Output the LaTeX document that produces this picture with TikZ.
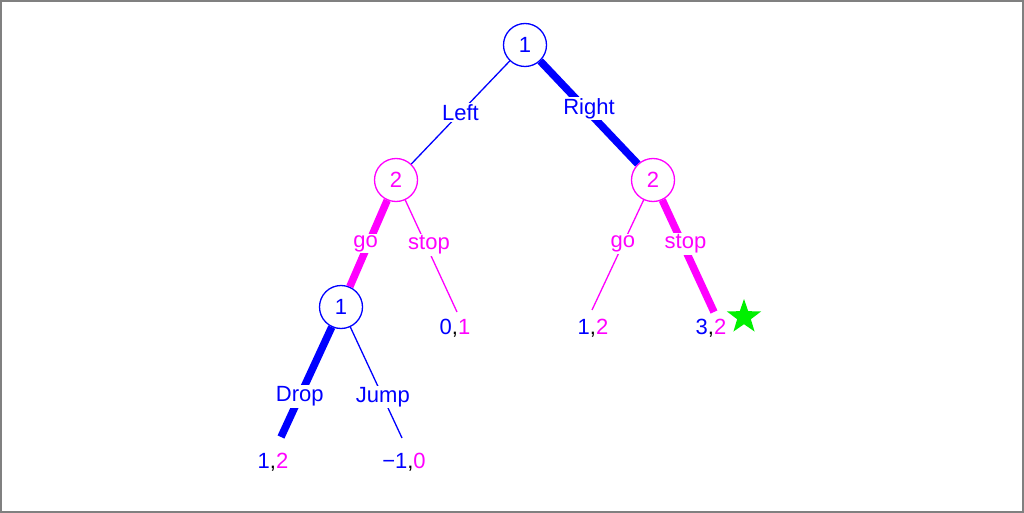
\documentclass[tikz,border=0pt]{standalone}
\usepackage{fontspec}
\setmainfont{Liberation Sans}
\usetikzlibrary{shapes.geometric}
\definecolor{pblue}{RGB}{0,0,255}
\definecolor{pmag}{RGB}{255,0,255}
\definecolor{pgreen}{RGB}{0,240,0}
\begin{document}
\begin{tikzpicture}[x=1pt,y=-1pt,
  font=\fontsize{22}{26}\selectfont,
  dnode/.style={circle,draw,line width=1.3pt,minimum size=43pt,inner sep=0pt,fill=white},
  thinline/.style={line width=1.3pt},
  thickline/.style={line width=7.5pt},
  lbl/.style={fill=white,inner sep=1.5pt},
  pay/.style={inner sep=0pt}]
\useasboundingbox (0,0) rectangle (1024,513);
\draw[gray,line width=2pt] (1,1) rectangle (1023,512);
% decision nodes
\node[dnode,draw=pblue,text=pblue] (r) at (525,45) {1};
\node[dnode,draw=pmag,text=pmag] (a) at (396,180) {2};
\node[dnode,draw=pmag,text=pmag] (b) at (653,180) {2};
\node[dnode,draw=pblue,text=pblue] (c) at (341,307) {1};
% leaf ends
\coordinate (e01) at (457,312);
\coordinate (e12) at (592,310);
\coordinate (e32) at (714,312);
\coordinate (ed) at (281,437);
\coordinate (ej) at (402,438);
% edges
\draw[pblue,thinline] (r) -- (a) node[lbl,midway,text=pblue] {Left};
\draw[pblue,thickline] (r) -- (b) node[lbl,midway,text=pblue,yshift=4pt] {Right};
\draw[pmag,thickline] (a) -- (c) node[lbl,midway,text=pmag,xshift=-3pt] {go};
\draw[pmag,thinline] (a) -- (e01) node[lbl,pos=0.4,text=pmag,xshift=3pt] {stop};
\draw[pmag,thinline] (b) -- (e12) node[lbl,pos=0.4,text=pmag] {go};
\draw[pmag,thickline] (b) -- (e32) node[lbl,pos=0.39,text=pmag,xshift=3pt] {stop};
\draw[pblue,thickline] (c) -- (ed) node[lbl,pos=0.63,text=pblue] {Drop};
\draw[pblue,thinline] (c) -- (ej) node[lbl,pos=0.63,text=pblue] {Jump};
% payoffs
\node[pay] (p01) at (455,328) {\textcolor{pblue}{0},\textcolor{pmag}{1}};
\node[pay] (p12) at (593,328) {\textcolor{pblue}{1},\textcolor{pmag}{2}};
\node[pay] (p32) at (711,328) {\textcolor{pblue}{3},\textcolor{pmag}{2}};
\node[pay] (pd) at (273,462) {\textcolor{pblue}{1},\textcolor{pmag}{2}};
\node[pay] (pj) at (404,462) {\textcolor{pblue}{−1},\textcolor{pmag}{0}};
\node[star,star points=5,star point ratio=2.5,fill=pgreen,minimum size=36pt,inner sep=0pt] (st) at (744,317) {};
\end{tikzpicture}
\end{document}
